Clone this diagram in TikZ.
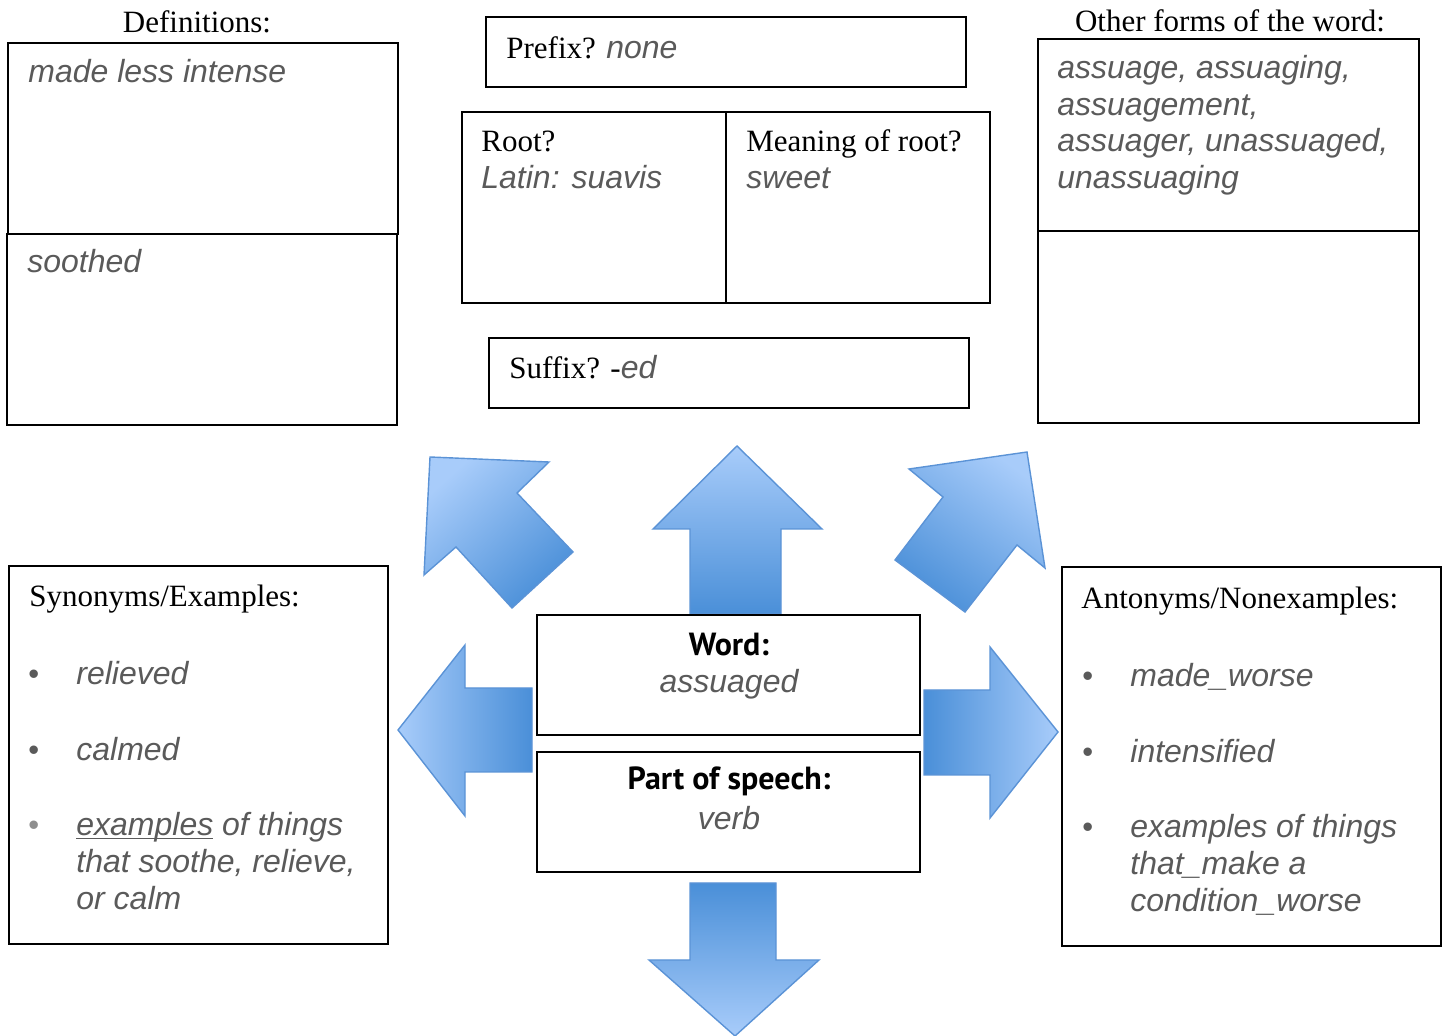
\documentclass[tikz,border=0pt]{standalone}
\usepackage{fontspec}
\setmainfont{Liberation Serif}
\setsansfont{Liberation Sans}
\newfontfamily\headfont{PT Sans}
\usepackage{tikz}
\usetikzlibrary{fit}
\definecolor{ink}{HTML}{5A5A5A}
\definecolor{softink}{HTML}{8E8E8E}
\definecolor{arrowlight}{HTML}{A8CCFA}
\definecolor{arrowdark}{HTML}{4A8FD8}
\definecolor{arrowline}{HTML}{5B93D6}
\newcommand\entry[1]{{\sffamily\itshape\fontsize{16}{18}\selectfont\color{ink}#1}}
\newcommand\uln[1]{\setbox0\hbox{#1}\rlap{\rule[-2pt]{\wd0}{0.6pt}}\box0\relax}

\begin{document}
\begin{tikzpicture}[x=0.5pt,y=-0.5pt,
                    cell/.style={draw,line width=0.9pt,inner sep=0pt},
                    txt/.style={anchor=base west,inner sep=0pt,yshift=-0.75pt,font=\fontsize{15.5}{18}\selectfont},
                    heading/.style={anchor=base,inner sep=0pt,yshift=-0.75pt,font=\fontsize{15.5}{18}\selectfont},
                    wordhead/.style={anchor=base,inner sep=0pt,yshift=-0.75pt,font=\headfont\bfseries\fontsize{16}{18}\selectfont},
                    barrow/.style={draw=arrowline,line width=0.7pt,top color=arrowlight,bottom color=arrowdark}]

  \useasboundingbox (0,0) rectangle (1447,1036);

  % block arrows round the word
  \path[barrow,shading angle=0]   (737,446) -- (822,529) -- (781,529) -- (781,614) -- (690,614) -- (690,529) -- (653,529) -- cycle;
  \path[barrow,shading angle=180] (690,883) -- (776,883) -- (776,960) -- (819,960) -- (735,1036) -- (649,960) -- (690,960) -- cycle;
  \path[barrow,shading angle=90]  (398,730) -- (465,645) -- (465,688) -- (532,688) -- (532,772) -- (465,772) -- (465,816) -- cycle;
  \path[barrow,shading angle=-90] (924,690) -- (990,690) -- (990,647) -- (1058,732) -- (990,818) -- (990,775) -- (924,775) -- cycle;
  \path[barrow,shading angle=42]  (430,457) -- (549,462) -- (517,493) -- (573,552) -- (512,608) -- (456,547) -- (424,575) -- cycle;
  \path[barrow,shading angle=-36] (1027,452) -- (1045,568) -- (1017,545) -- (965,612) -- (895,560) -- (943,497) -- (909,469) -- cycle;

  % boxes
  \node[cell,fit={(8,43) (398,234)}]      (DEF1) {};
  \node[cell,fit={(7,234) (397,425)}]     (DEF2) {};
  \node[cell,fit={(486,17) (966,87)}]     (PRE)  {};
  \node[cell,fit={(462,112) (726,303)}]   (ROOT) {};
  \node[cell,fit={(726,112) (990,303)}]   (MEAN) {};
  \node[cell,fit={(489,338) (969,408)}]   (SUF)  {};
  \node[cell,fit={(1038,39) (1419,231)}]  (OTH1) {};
  \node[cell,fit={(1038,231) (1419,423)}] (OTH2) {};
  \node[cell,fit={(9,566) (388,944)}]     (SYN)  {};
  \node[cell,fit={(537,615) (920,735)}]   (WORD) {};
  \node[cell,fit={(537,752) (920,872)}]   (POS)  {};
  \node[cell,fit={(1062,567) (1441,946)}] (ANT)  {};

  % top row
  \node[heading] (DEFT) at (197,31) {Definitions:};
  \node[heading] (OTHT) at (1230,30) {Other forms of the word:};
  \node[txt] (DEF1A) at (28,81)   {\entry{made less intense}};
  \node[txt] (DEF2A) at (27,271)  {\entry{soothed}};
  \node[txt] (PREA)  at (506,57)  {Prefix? \entry{none}};
  \node[txt] (ROOTA) at (481,150) {Root?};
  \node[txt] (ROOTB) at (481,187) {\entry{Latin: suavis}};
  \node[txt] (MEANA) at (746,150) {Meaning of root?};
  \node[txt] (MEANB) at (746,187) {\entry{sweet}};
  \node[txt] (SUFA)  at (509,377) {Suffix? -\entry{ed}};
  \foreach \txt [count=\i] in {{assuage, assuaging,},{assuagement,},{assuager, unassuaged,},unassuaging}
    \node[txt] (OTH-\i) at (1057,{77+36.7*(\i-1)}) {\entry{\txt}};

  % word in the middle
  \node[wordhead] (WORDA) at (729,654) {Word:};
  \node[heading]  (WORDB) at (729,691) {\entry{assuaged}};
  \node[wordhead] (POSA)  at (729,788) {Part of speech:};
  \node[heading]  (POSB)  at (729,828) {\entry{verb}};

  % synonyms
  \node[txt] (SYNT) at (29,605) {Synonyms/Examples:};
  \node[txt,text=ink]     (SYNB1) at (28,683) {\sffamily\textbullet};
  \node[txt,text=ink]     (SYNB2) at (28,759) {\sffamily\textbullet};
  \node[txt,text=softink] (SYNB3) at (28,834) {\sffamily\textbullet};
  \node[txt] (SYN1) at (76,683) {\entry{relieved}};
  \node[txt] (SYN2) at (76,759) {\entry{calmed}};
  \node[txt] (SYN3) at (76,834) {\entry{\uln{examples} of things}};
  \node[txt] (SYN4) at (76,871) {\entry{that soothe, relieve,}};
  \node[txt] (SYN5) at (76,908) {\entry{or calm}};

  % antonyms
  \node[txt] (ANTT) at (1081,607) {Antonyms/Nonexamples:};
  \node[txt,text=ink] (ANTB1) at (1082,685) {\sffamily\textbullet};
  \node[txt,text=ink] (ANTB2) at (1082,761) {\sffamily\textbullet};
  \node[txt,text=ink] (ANTB3) at (1082,836) {\sffamily\textbullet};
  \node[txt] (ANT1) at (1130,685) {\entry{made\_worse}};
  \node[txt] (ANT2) at (1130,761) {\entry{intensified}};
  \node[txt] (ANT3) at (1130,836) {\entry{examples of things}};
  \node[txt] (ANT4) at (1130,873) {\entry{that\_make a}};
  \node[txt] (ANT5) at (1130,910) {\entry{condition\_worse}};
\end{tikzpicture}
\end{document}
